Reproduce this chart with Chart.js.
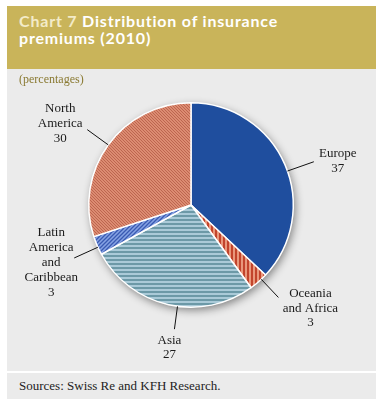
<!DOCTYPE html>
<html>
<head>
  <script src="https://cdn.jsdelivr.net/npm/chart.js"></script>
  <style>
    body { margin: 0; background: #fff; width: 382px; height: 404px; position: relative; }
    .banner { position: absolute; left: 7px; top: 6px; width: 369px; height: 63px; background: #C9B45A; }
    .banner h1 { margin: 0; padding: 6px 12px; font-family: Lato, sans-serif; font-weight: bold; font-size: 16px; letter-spacing: 0.8px; line-height: 17px; color: #fff; }
    .banner h1 span { color: #F3EBC8; }
    .panel { position: absolute; left: 7px; top: 69px; width: 369px; height: 302px; background: #EBEBEB; }
    .serif { font-family: "Liberation Serif", "Times New Roman", Tinos, "DejaVu Serif", serif; }
    .unit { position: absolute; left: 12px; top: 3px; font-size: 12px; color: #8A7A32; }
    .sources { position: absolute; left: 7px; top: 373px; width: 369px; height: 26px; background: #EBEBEB;
      font-size: 13px; color: #222; line-height: 26px; }
    .sources span { padding-left: 12px; }
    canvas { position: absolute; left: 0; top: 0; }
  </style>
</head>
<body>
  <div class="banner"><h1><span>Chart 7</span> Distribution of insurance<br>premiums (2010)</h1></div>
  <div class="panel">
    <canvas id="pie" width="369" height="302"></canvas>
    <div class="unit serif">(percentages)</div>
  </div>
  <div class="sources serif"><span>Sources: Swiss Re and KFH Research.</span></div>

  <script>
    // data
    var regions = ['Europe', 'Oceania and Africa', 'Asia', 'Latin America and Caribbean', 'North America'];
    var shares = [37, 3, 27, 3, 30];
    var labelLines = [['Europe'], ['Oceania', 'and Africa'], ['Asia'], ['Latin', 'America', 'and', 'Caribbean'], ['North', 'America']];

    // leader line / text placement for each slice (angle shift in degrees, line length, text offset)
    var labelLayout = [
      { da: 4, len: 28, dx: 24, dy: -8 },
      { da: -2, len: 25, dx: 32, dy: -4 },
      { da: -5, len: 23, dx: -5, dy: 11 },
      { da: -1, len: 26, dx: -23, dy: -25 },
      { da: 0, len: 26, dx: -27, dy: -21 }
    ];

    function stripes(size, base, stripe, draw) {
      var c = document.createElement('canvas');
      c.width = size; c.height = size;
      var g = c.getContext('2d');
      g.fillStyle = base;
      g.fillRect(0, 0, size, size);
      g.strokeStyle = stripe;
      g.fillStyle = stripe;
      draw(g, size);
      return g.createPattern(c, 'repeat');
    }

    var ctx = document.getElementById('pie').getContext('2d');

    var fills = [
      '#1F4E9E',
      stripes(4, '#E9987C', '#C2442C', function (g, s) { g.fillRect(0, 0, 2, s); }),
      stripes(4, '#AACAD8', '#6C99A7', function (g, s) { g.fillRect(0, 2, s, 2); }),
      stripes(4, '#86A3E4', '#3A5AB2', function (g, s) {
        g.lineWidth = 1.3;
        g.beginPath(); g.moveTo(0, s); g.lineTo(s, 0);
        g.moveTo(-1, 1); g.lineTo(1, -1);
        g.moveTo(s - 1, s + 1); g.lineTo(s + 1, s - 1); g.stroke();
      }),
      stripes(3, '#DC8C72', '#B9614B', function (g, s) {
        g.lineWidth = 0.9;
        g.beginPath(); g.moveTo(0, 0); g.lineTo(s, s);
        g.moveTo(-1, s - 1); g.lineTo(1, s + 1);
        g.moveTo(s - 1, -1); g.lineTo(s + 1, 1); g.stroke();
      })
    ];

    var shadowPlugin = {
      id: 'shadow',
      beforeDatasetsDraw: function (chart) {
        var arc = chart.getDatasetMeta(0).data[0];
        if (!arc) return;
        var c = chart.ctx;
        c.save();
        c.shadowColor = 'rgba(0,0,0,0.45)';
        c.shadowBlur = 9;
        c.shadowOffsetX = 2;
        c.shadowOffsetY = 3;
        c.fillStyle = '#EBEBEB';
        c.beginPath();
        c.arc(arc.x, arc.y, arc.outerRadius, 0, Math.PI * 2);
        c.fill();
        c.restore();
      }
    };

    var labelPlugin = {
      id: 'leaderLabels',
      afterDatasetsDraw: function (chart) {
        var c = chart.ctx;
        var arcs = chart.getDatasetMeta(0).data;
        c.save();
        c.font = '13px "Liberation Serif", "Times New Roman", Tinos, "DejaVu Serif", serif';
        c.fillStyle = '#1a1a1a';
        c.textAlign = 'center';
        c.textBaseline = 'middle';
        arcs.forEach(function (arc, i) {
          var lay = labelLayout[i];
          var mid = (arc.startAngle + arc.endAngle) / 2 + lay.da * Math.PI / 180;
          var r = arc.outerRadius;
          var x0 = arc.x + Math.cos(mid) * r, y0 = arc.y + Math.sin(mid) * r;
          var x1 = arc.x + Math.cos(mid) * (r + lay.len), y1 = arc.y + Math.sin(mid) * (r + lay.len);
          c.strokeStyle = '#111';
          c.lineWidth = 1;
          c.beginPath(); c.moveTo(x0, y0); c.lineTo(x1, y1); c.stroke();
          var lines = labelLines[i].concat([String(shares[i])]);
          lines.forEach(function (t, k) {
            c.fillText(t, x1 + lay.dx, y1 + lay.dy + k * 14.8);
          });
        });
        c.restore();
      }
    };

    new Chart(ctx, {
      type: 'pie',
      data: {
        labels: regions,
        datasets: [{
          data: shares,
          backgroundColor: fills,
          borderColor: '#ffffff',
          borderWidth: 1.5
        }]
      },
      options: {
        responsive: false,
        animation: false,
        layout: { padding: { left: 81, right: 82, top: 33, bottom: 63 } },
        plugins: { legend: { display: false }, tooltip: { enabled: false } }
      },
      plugins: [shadowPlugin, labelPlugin]
    });
  </script>
</body>
</html>
